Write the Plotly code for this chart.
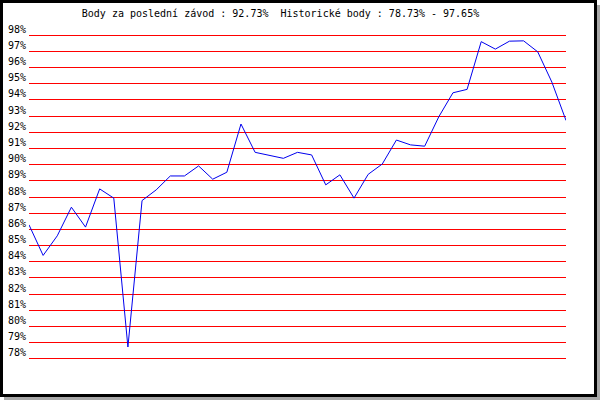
import plotly.graph_objects as go

# Data (percent points per race)
races = list(range(39))
points = [86.28, 84.39, 85.60, 87.37, 86.14, 88.50, 87.93, 78.73, 87.78, 88.44,
          89.30, 89.30, 89.92, 89.10, 89.53, 92.51, 90.76, 90.58, 90.39, 90.76,
          90.60, 88.75, 89.37, 87.93, 89.40, 90.04, 91.52, 91.22, 91.14, 92.96,
          94.44, 94.65, 97.60, 97.14, 97.63, 97.65, 96.97, 95.10, 92.73]
tick_values = list(range(78, 99))
tick_labels = [f"{v}%" for v in tick_values]

FONT = "DejaVu Sans Mono"
W, H = 600, 400
ML, MR, MT, MB = 29, 34, 19, 25
PW, PH = W - ML - MR, H - MT - MB


def px_x(p):
    return (p - ML) / PW


def px_y(p):
    return (H - MB - p) / PH


title = (f"Body za poslední závod : {points[-1]:.2f}%\u00a0 Historické body : "
         f"{min(points):.2f}% - {max(points):.2f}%")

fig = go.Figure()
fig.add_trace(go.Scatter(x=races, y=points, mode="lines",
                         line=dict(color="#0000ee", width=1),
                         hoverinfo="skip", showlegend=False))

shapes = [
    # shadow
    dict(type="rect", xref="paper", yref="paper", layer="below",
         x0=px_x(4), x1=px_x(600), y0=px_y(5), y1=px_y(400),
         fillcolor="#a8a8a8", line=dict(width=0)),
    # framed white box
    dict(type="rect", xref="paper", yref="paper", layer="below",
         x0=px_x(1.5), x1=px_x(595.5), y0=px_y(1.5), y1=px_y(395.5),
         fillcolor="white", line=dict(color="black", width=3)),
]

fig.update_layout(
    width=W, height=H,
    margin=dict(l=ML, r=MR, t=MT, b=MB, pad=0, autoexpand=False),
    paper_bgcolor="white", plot_bgcolor="rgba(0,0,0,0)",
    shapes=shapes,
    title=dict(text=title, x=280.5 / W, xanchor="center",
               y=1 - 13 / H, yanchor="middle",
               font=dict(family=FONT, size=10, color="black")),
    xaxis=dict(range=[0, 38], showgrid=False, zeroline=False, showline=False,
               showticklabels=False, ticks="", fixedrange=True,
               automargin=False),
    yaxis=dict(range=[77, 99], tickmode="array", tickvals=tick_values,
               ticktext=tick_labels, showgrid=True, gridcolor="#ff0000",
               gridwidth=1, zeroline=False, showline=False, ticks="",
               ticklabelshift=-6, ticklabelstandoff=2, automargin=False,
               tickfont=dict(family=FONT, size=10, color="black"),
               fixedrange=True),
)

fig.write_html("out.html", config={"displayModeBar": False},
               post_script="document.body.style.margin='0';")
